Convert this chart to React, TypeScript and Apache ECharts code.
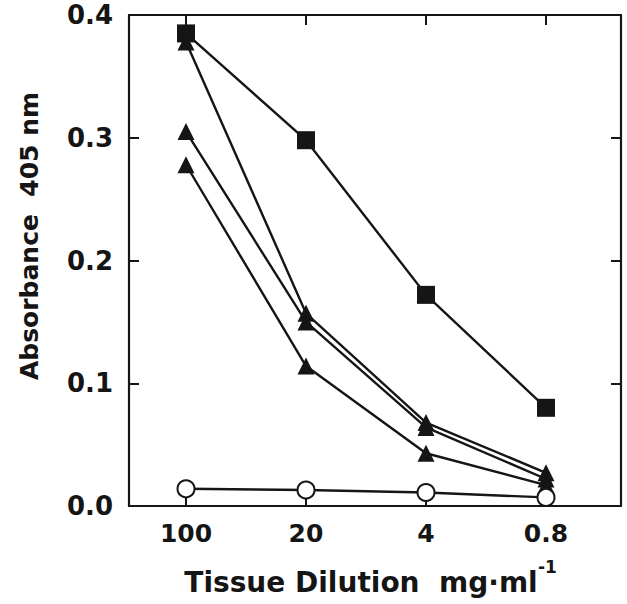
import React, { useEffect, useRef } from "react";
import * as echarts from "echarts";

const categories = ["100", "20", "4", "0.8"];
const squareSeries = [0.385, 0.298, 0.172, 0.08];
const triangleA = [0.378, 0.157, 0.068, 0.027];
const triangleB = [0.305, 0.15, 0.064, 0.022];
const triangleC = [0.278, 0.114, 0.043, 0.017];
const circleSeries = [0.014, 0.013, 0.011, 0.007];
const yTicks = [0, 0.1, 0.2, 0.3, 0.4];

const INK = "#151515";
const FONT = "DejaVu Sans";

const toPairs = (vals: number[]) => vals.map((v, i) => [i, v]);
const catIdx = categories.map((_, i) => i);

export default function App() {
  const ref = useRef<HTMLDivElement>(null);
  useEffect(() => {
    if (!ref.current) return;
    const chart = echarts.init(ref.current, undefined, { renderer: "svg" });
    const axisLine = { show: true, onZero: false, lineStyle: { color: INK, width: 2.2 } };
    const xBase = {
      type: "value" as const,
      min: -0.475,
      max: 3.625,
      splitLine: { show: false },
      axisLine,
    };
    const yBase = {
      type: "value" as const,
      min: 0,
      max: 0.4,
      interval: 0.1,
      splitLine: { show: false },
      axisLine,
    };
    const lineSeries = (name: string, vals: number[], symbol: string, size: number, hollow = false) => ({
      name,
      type: "line" as const,
      data: toPairs(vals),
      symbol,
      symbolSize: size,
      showSymbol: true,
      lineStyle: { color: INK, width: 2.4 },
      itemStyle: hollow
        ? { color: "#ffffff", borderColor: INK, borderWidth: 2 }
        : { color: INK, borderColor: INK, borderWidth: 0 },
      z: hollow ? 5 : 3,
    });
    chart.setOption({
      animation: false,
      backgroundColor: "#ffffff",
      grid: { left: 129, right: 6, top: 15, bottom: 98 },
      xAxis: [
        {
          ...xBase,
          position: "bottom",
          axisTick: { show: true, inside: true, length: 8, customValues: catIdx, lineStyle: { color: INK, width: 2 } },
          axisLabel: {
            customValues: catIdx,
            formatter: (v: number) => categories[Math.round(v)] ?? "",
            fontFamily: FONT,
            fontWeight: "bold",
            fontSize: 25,
            color: INK,
            margin: 15,
          },
        },
        {
          ...xBase,
          position: "top",
          axisTick: { show: true, inside: true, length: 10, customValues: catIdx, lineStyle: { color: INK, width: 2 } },
          axisLabel: { show: false },
        },
      ],
      yAxis: [
        {
          ...yBase,
          position: "left",
          axisTick: { show: true, inside: true, length: 10, customValues: yTicks, lineStyle: { color: INK, width: 2 } },
          axisLabel: {
            formatter: (v: number) => v.toFixed(1),
            fontFamily: FONT,
            fontWeight: "bold",
            fontSize: 26,
            color: INK,
            margin: 16,
          },
        },
        {
          ...yBase,
          position: "right",
          axisTick: { show: true, inside: true, length: 10, lineStyle: { color: INK, width: 2 } },
          axisLabel: { show: false },
        },
      ],
      series: [
        lineSeries("Square", squareSeries, "rect", 18),
        lineSeries("Triangle A", triangleA, "triangle", 17),
        lineSeries("Triangle B", triangleB, "triangle", 17),
        lineSeries("Triangle C", triangleC, "triangle", 17),
        lineSeries("Open circle", circleSeries, "circle", 17, true),
      ],
      graphic: [
        {
          type: "text",
          x: 29,
          y: 236,
          rotation: Math.PI / 2,
          style: {
            text: "Absorbance  405 nm",
            fill: INK,
            font: `bold 25px "${FONT}"`,
            textAlign: "center",
            textVerticalAlign: "middle",
          },
        },
        {
          type: "text",
          x: 361,
          y: 582,
          style: {
            text: "Tissue Dilution  mg·ml",
            fill: INK,
            font: `bold 28px "${FONT}"`,
            textAlign: "center",
            textVerticalAlign: "middle",
          },
        },
        {
          type: "text",
          x: 538,
          y: 567,
          style: {
            text: "-1",
            fill: INK,
            font: `bold 17px "${FONT}"`,
            textAlign: "left",
            textVerticalAlign: "middle",
          },
        },
      ],
    });
    return () => chart.dispose();
  }, []);
  return <div ref={ref} style={{ position: "absolute", left: 0, top: 0, width: 627, height: 604 }} />;
}
